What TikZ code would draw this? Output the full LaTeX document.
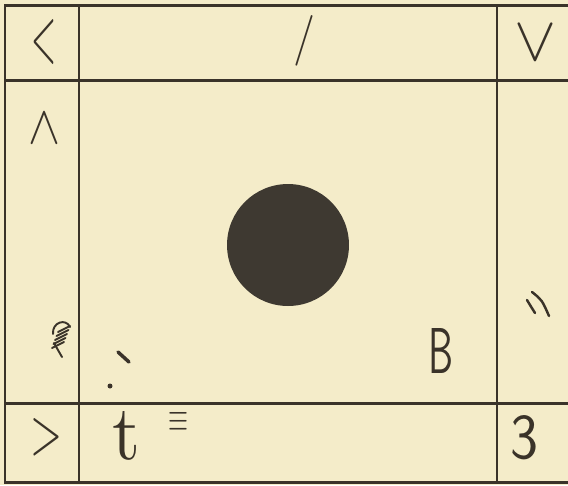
\documentclass[tikz,border=0pt]{standalone}
\usepackage{fontspec}
\usepackage{graphicx}
\definecolor{paper}{HTML}{F4ECC9}
\definecolor{ink}{HTML}{3A3329}
\definecolor{disc}{HTML}{3E3931}
\begin{document}
\begin{tikzpicture}[x=0.02cm,y=-0.02cm,
  rule/.style={draw=ink,line width=1.7pt},
  glyph/.style={inner sep=0pt,text=ink},
  inkstroke/.style={draw=ink,line width=1.4pt,line cap=round}]
\fill[paper] (0,0) rectangle (568,485);
\useasboundingbox (0,0) rectangle (568,485);
% frame and grid
\draw[rule] (568,5) -- (5,5) -- (5,482) -- (568,482);
\draw[rule] (5,80) -- (568,80);
\draw[rule] (5,403) -- (568,403);
\draw[rule] (79,5) -- (79,482);
\draw[rule] (497,5) -- (497,482);
% disc
\fill[disc] (288,245) circle[radius=1.22cm];
% symbols
\node[glyph] (lt) at (44,42) {\resizebox{0.5cm}{0.84cm}{$<$}};
\node[glyph] (sl) at (304,41) {\resizebox{0.44cm}{0.76cm}{$/$}};
\node[glyph] (vee) at (535,43) {\resizebox{0.84cm}{0.7cm}{$\vee$}};
\node[glyph] (wedge) at (44,128) {\resizebox{0.64cm}{0.6cm}{$\wedge$}};
\node[glyph] (gt) at (46,437) {\resizebox{0.64cm}{0.7cm}{$>$}};
\node[glyph] (tt) at (126,436) {\resizebox{0.56cm}{0.96cm}{t}};
\node[glyph] (eq) at (178,422) {\resizebox{0.4cm}{0.38cm}{$\equiv$}};
\node[glyph] (bb) at (441,351) {\resizebox{0.5cm}{0.9cm}{\sffamily B}};
\node[glyph] (three) at (524,438) {\resizebox{0.56cm}{0.86cm}{\sffamily 3}};
% ditto mark on right
\draw[inkstroke] (527,300) .. controls (530,305) .. (535,313);
\draw[inkstroke] (532,292) .. controls (542,300) .. (549,316);
% hatched mark on left
\draw[inkstroke,line width=1.1pt] (53,334) .. controls (52,322) and (66,318) .. (70,327);
\foreach \k in {0,1,2,3,4} {
  \draw[inkstroke,line width=1.1pt] (70-\k*1.5,326+\k*4) -- (58-\k*1.5,332+\k*4);
}
\draw[inkstroke,line width=1.1pt] (54,343) -- (62,357);
% small marks
\draw[inkstroke,line width=2pt] (118,352) -- (129,362);
\fill[ink] (110,386) circle[radius=0.05cm];
\end{tikzpicture}
\end{document}
